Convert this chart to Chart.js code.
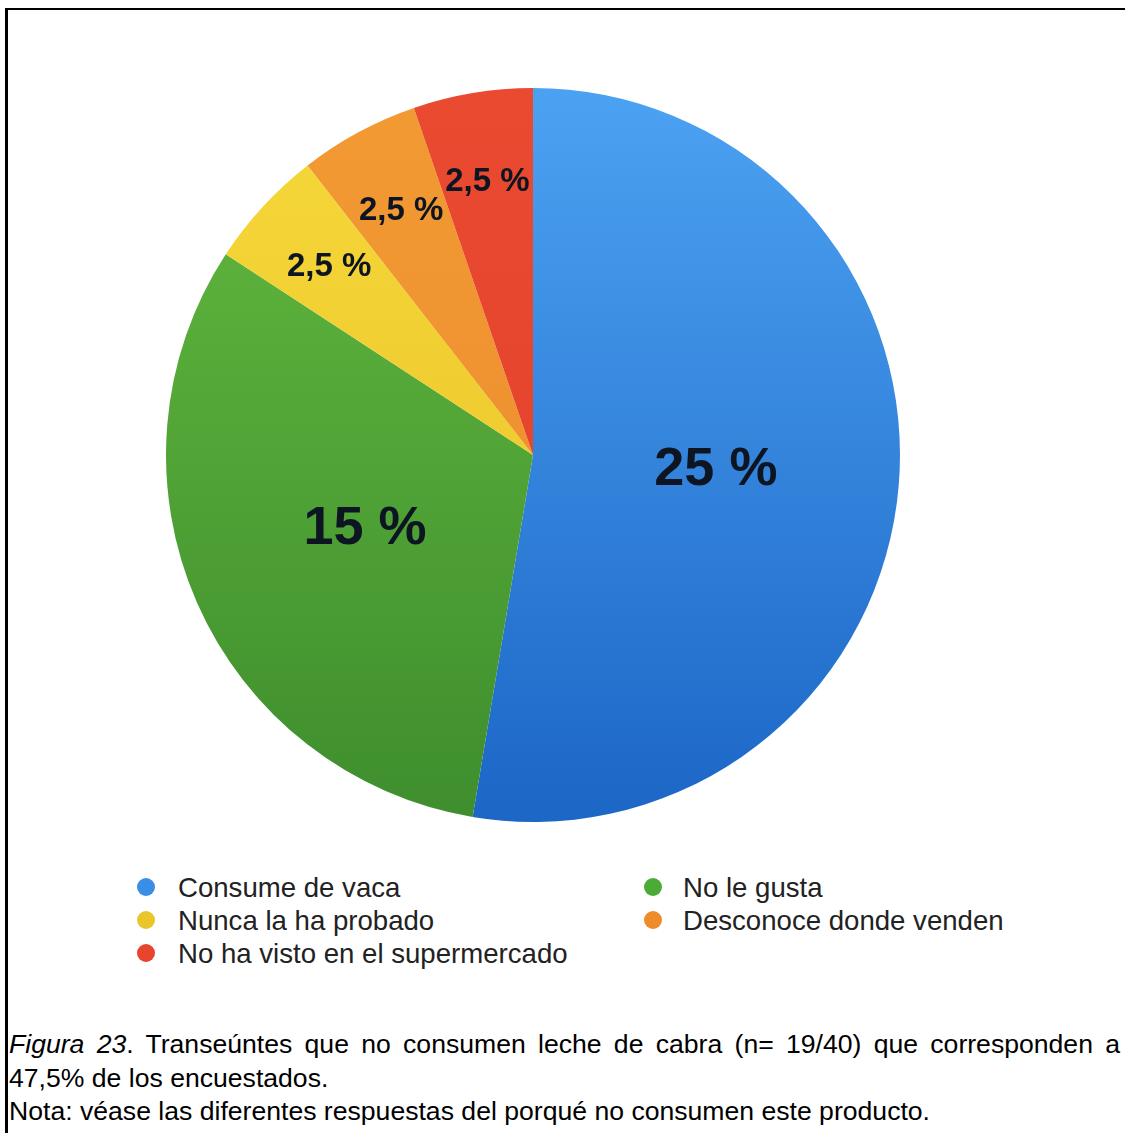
<!DOCTYPE html>
<html>
<head>
    <title>Figura 23</title>
    <script src="https://cdn.jsdelivr.net/npm/chart.js"></script>
    <style>
        body { margin: 0; background: #fff; font-family: "Liberation Sans", Arial, sans-serif; }
        #page { position: relative; width: 1125px; height: 1133px; overflow: hidden; }
        #frameTop { position: absolute; left: 5px; top: 8px; width: 1120px; height: 0; border-top: 2px solid #000; }
        #frameLeft { position: absolute; left: 5px; top: 8px; width: 0; height: 1125px; border-left: 3px solid #000; }
        #pieBox { position: absolute; left: 166px; top: 88px; width: 734px; height: 734px; }
        .leg { position: absolute; font-size: 27.6px; color: #222; line-height: 33px; white-space: nowrap; }
        .dot { position: absolute; width: 18px; height: 18px; border-radius: 50%; }
        #caption { position: absolute; left: 9px; top: 1028px; width: 1111px; font-size: 26.6px; line-height: 33.5px; color: #000; }
        #caption p { margin: 0; text-align: justify; text-align-last: left; }
    </style>
</head>
<body>
<div id="page">
    <div id="frameTop"></div>
    <div id="frameLeft"></div>
    <div id="pieBox"><canvas id="myChart"></canvas></div>
    <div id="legend"></div>
    <div id="caption">
        <p><i>Figura 23</i>. Transeúntes que no consumen leche de cabra (n= 19/40) que corresponden a 47,5% de los encuestados.</p>
        <p>Nota: véase las diferentes respuestas del porqué no consumen este producto.</p>
    </div>
</div>
<script>
    // Data
    const categories = ['Consume de vaca', 'No le gusta', 'Nunca la ha probado', 'Desconoce donde venden', 'No ha visto en el supermercado'];
    const values = [25, 15, 2.5, 2.5, 2.5];
    const valueLabels = ['25 %', '15 %', '2,5 %', '2,5 %', '2,5 %'];

    // colours: [top, bottom] of the vertical shading
    const colorsTop = ['#4ca2f2', '#64ba3e', '#f6d83a', '#f29a34', '#ea4a30'];
    const colorsBottom = ['#1c66c6', '#3e8e2e', '#e8c024', '#ea8a2a', '#e0402a'];
    const legendColors = ['#3a8ee6', '#4caa36', '#e8c62c', '#ee8c2c', '#e8442e'];

    function shade(ctx) {
        const chart = ctx.chart;
        const area = chart.chartArea;
        if (!area) return colorsTop[ctx.dataIndex];
        const g = chart.ctx.createLinearGradient(0, area.top, 0, area.bottom);
        g.addColorStop(0, colorsTop[ctx.dataIndex]);
        g.addColorStop(1, colorsBottom[ctx.dataIndex]);
        return g;
    }

    // value labels inside the slices
    const sliceLabels = {
        id: 'sliceLabels',
        afterDatasetsDraw(chart) {
            const c = chart.ctx;
            const arcs = chart.getDatasetMeta(0).data;
            c.save();
            c.textAlign = 'center';
            c.textBaseline = 'middle';
            c.fillStyle = '#0d1522';
            arcs.forEach((arc, i) => {
                const big = values[i] >= 10;
                const mid = (arc.startAngle + arc.endAngle) / 2;
                const r = arc.outerRadius * (big ? 0.5 : 0.755);
                const x = arc.x + Math.cos(mid) * r;
                const y = arc.y + Math.sin(mid) * r;
                c.font = 'bold ' + (big ? 54 : 33) + 'px "Liberation Sans", Arial, sans-serif';
                c.fillText(valueLabels[i], x, y);
            });
            c.restore();
        }
    };

    const ctx = document.getElementById('myChart').getContext('2d');
    new Chart(ctx, {
        type: 'pie',
        data: {
            labels: categories,
            datasets: [{
                data: values,
                backgroundColor: shade,
                borderWidth: 0
            }]
        },
        options: {
            responsive: true,
            maintainAspectRatio: false,
            animation: false,
            layout: { padding: 0 },
            plugins: {
                legend: { display: false },
                tooltip: { enabled: false }
            }
        },
        plugins: [sliceLabels]
    });

    // legend in two columns, like the original
    const legend = document.getElementById('legend');
    const colX = [146, 653];
    const textX = [178, 683];
    const rowY = [887, 920, 953];
    categories.forEach((name, i) => {
        const col = i % 2, row = Math.floor(i / 2);
        const dot = document.createElement('div');
        dot.className = 'dot';
        dot.style.left = (colX[col] - 9) + 'px';
        dot.style.top = (rowY[row] - 9) + 'px';
        dot.style.background = legendColors[i];
        legend.appendChild(dot);
        const t = document.createElement('div');
        t.className = 'leg';
        t.style.left = textX[col] + 'px';
        t.style.top = (rowY[row] - 16.5) + 'px';
        t.textContent = name;
        legend.appendChild(t);
    });
</script>
</body>
</html>
